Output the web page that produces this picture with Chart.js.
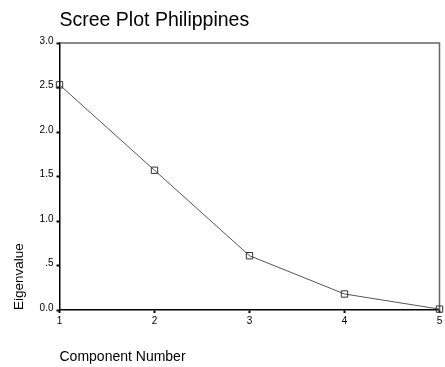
<!DOCTYPE html>
<html>
<head>
<meta charset="utf-8">
<script src="https://cdn.jsdelivr.net/npm/chart.js@4.4.0/dist/chart.umd.min.js"></script>
<style>
    html, body { margin: 0; padding: 0; background: #fff; }
    #wrap { width: 445px; height: 367px; position: relative; }
</style>
</head>
<body>
<div id="wrap"><canvas id="scree"></canvas></div>
<script>
// scree plot values
const components = [1, 2, 3, 4, 5];
const eigenvalues = [2.53, 1.57, 0.61, 0.18, 0.01];
const yTicks = [0, 0.5, 1, 1.5, 2, 2.5, 3];

const chartTitle = 'Scree Plot Philippines';
const fontFam = '"Liberation Sans", Arial, sans-serif';

// draws the title plus the grey frame on top/right
const framePlugin = {
    id: 'frame',
    beforeDatasetsDraw(chart) {
        const ctx = chart.ctx;
        const a = chart.chartArea;
        ctx.save();
        ctx.strokeStyle = '#666';
        ctx.lineWidth = 1.5;
        ctx.beginPath();
        ctx.moveTo(a.left, a.top);
        ctx.lineTo(a.right, a.top);
        ctx.lineTo(a.right, a.bottom);
        ctx.stroke();
        ctx.restore();
    },
    afterDraw(chart) {
        const ctx = chart.ctx;
        ctx.save();
        ctx.fillStyle = '#000';
        ctx.font = '19.5px ' + fontFam;
        ctx.textBaseline = 'alphabetic';
        ctx.textAlign = 'left';
        ctx.fillText(chartTitle, chart.chartArea.left, 26);
        ctx.restore();
    }
};

const points = components.map((c, i) => ({ x: c, y: eigenvalues[i] }));

new Chart(document.getElementById('scree'), {
    type: 'line',
    data: {
        datasets: [{
            data: points,
            borderColor: '#555',
            borderWidth: 1,
            pointStyle: 'rect',
            pointRadius: 4.5,
            pointBorderWidth: 1,
            pointBorderColor: '#333',
            pointBackgroundColor: 'rgba(255,255,255,0)',
            tension: 0,
            clip: false
        }]
    },
    options: {
        responsive: true,
        maintainAspectRatio: false,
        animation: false,
        layout: { padding: { top: 43, right: 3.5, bottom: 1, left: 0 } },
        plugins: {
            legend: { display: false },
            tooltip: { enabled: false }
        },
        scales: {
            x: {
                type: 'linear',
                min: 1,
                max: 5,
                afterFit: (scale) => { scale.height = 56; },
                ticks: {
                    stepSize: 1,
                    color: '#000',
                    font: { family: fontFam, size: 10 },
                    padding: 2,
                    maxRotation: 0
                },
                grid: { drawOnChartArea: false, tickLength: 3, tickColor: '#000', tickWidth: 2 },
                border: { color: '#000', width: 1.5 },
                title: {
                    display: true,
                    text: 'Component Number',
                    align: 'start',
                    color: '#000',
                    font: { family: fontFam, size: 14 },
                    padding: { top: 0, bottom: 0 }
                }
            },
            y: {
                min: 0,
                max: 3,
                afterFit: (scale) => { scale.width = 59.5; },
                afterBuildTicks: (scale) => { scale.ticks = yTicks.map(v => ({ value: v })); },
                ticks: {
                    color: '#000',
                    font: { family: fontFam, size: 10 },
                    padding: 3,
                    labelOffset: -2,
                    callback: (v) => v === 0 ? '0.0' : (v === 0.5 ? '.5' : v.toFixed(1))
                },
                grid: { drawOnChartArea: false, tickLength: 3, tickColor: '#000', tickWidth: 2 },
                border: { color: '#000', width: 1.5 },
                title: {
                    display: true,
                    text: 'Eigenvalue',
                    align: 'start',
                    color: '#000',
                    font: { family: fontFam, size: 13.5 },
                    padding: { top: 11, bottom: 0 }
                }
            }
        }
    },
    plugins: [framePlugin]
});
</script>
</body>
</html>
